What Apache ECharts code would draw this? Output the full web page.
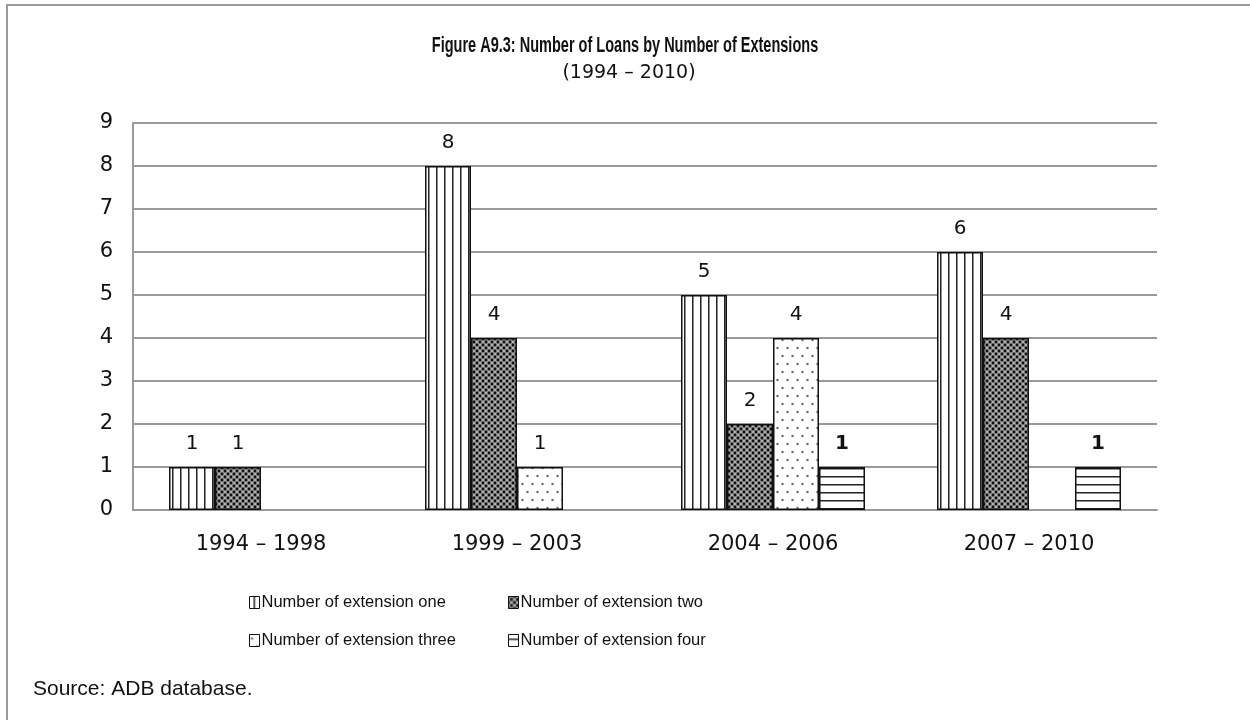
<!DOCTYPE html>
<html>
<head>
<meta charset="utf-8">
<title>Figure A9.3</title>
<script src="https://cdn.jsdelivr.net/npm/echarts@6/dist/echarts.min.js"></script>
<style>
	html, body { margin: 0; padding: 0; background: #fff; }
	#chart { width: 1250px; height: 720px; }
</style>
</head>
<body>
<div id="chart"></div>
<script>
// 数据部分
var categories = ['1994 – 1998', '1999 – 2003', '2004 – 2006', '2007 – 2010'];
var seriesNames = ['Number of extension one', 'Number of extension two', 'Number of extension three', 'Number of extension four'];
var extOne = [1, 8, 5, 6];
var extTwo = [1, 4, 2, 4];
var extThree = ['-', 1, 4, '-'];
var extFour = ['-', '-', 1, 1];
var yTicks = [0, 9, 1]; // min, max, interval

var sans = '"Liberation Sans", Arial, sans-serif';
var wide = '"DejaVu Sans", Verdana, sans-serif';

// 生成填充图案
function makePattern(kind){
	var c = document.createElement('canvas');
	var ctx = c.getContext('2d');
	if(kind == 'vert'){
		c.width = 8; c.height = 8;
		ctx.fillStyle = '#fff'; ctx.fillRect(0, 0, 8, 8);
		ctx.fillStyle = '#222'; ctx.fillRect(4, 0, 1.5, 8);
	}else if(kind == 'cross'){
		c.width = 6; c.height = 6;
		ctx.fillStyle = '#909090'; ctx.fillRect(0, 0, 6, 6);
		ctx.fillStyle = '#111';
		[[0,0],[6,0],[0,6],[6,6],[3,3]].forEach(function(p){
			ctx.beginPath(); ctx.arc(p[0], p[1], 1.4, 0, Math.PI * 2); ctx.fill();
		});
		ctx.fillStyle = '#dcdcdc';
		[[3,0],[0,3],[6,3],[3,6]].forEach(function(p){
			ctx.beginPath(); ctx.arc(p[0], p[1], 0.8, 0, Math.PI * 2); ctx.fill();
		});
	}else if(kind == 'dots'){
		c.width = 10; c.height = 16;
		ctx.fillStyle = '#fff'; ctx.fillRect(0, 0, 10, 16);
		ctx.fillStyle = '#666';
		ctx.beginPath(); ctx.arc(2.5, 4, 1.2, 0, Math.PI * 2); ctx.fill();
		ctx.beginPath(); ctx.arc(7.5, 12, 1.2, 0, Math.PI * 2); ctx.fill();
	}else{
		c.width = 8; c.height = 8;
		ctx.fillStyle = '#fff'; ctx.fillRect(0, 0, 8, 8);
		ctx.fillStyle = '#222'; ctx.fillRect(0, 4, 8, 1.5);
	}
	return { image: c, repeat: 'repeat' };
}

var patterns = [makePattern('vert'), makePattern('cross'), makePattern('dots'), makePattern('horiz')];
var values = [extOne, extTwo, extThree, extFour];

var myChart = echarts.init(document.getElementById('chart'));

// 图例位置（两行两列）
var legendPos = [[249, 594], [508, 594], [249, 632], [508, 632]];
var legends = seriesNames.map(function(name, i){
	return {
		data: [name],
		left: legendPos[i][0],
		top: legendPos[i][1],
		padding: 0,
		itemWidth: 10,
		itemHeight: 12,
		itemGap: 0,
		selectedMode: false,
		icon: 'rect',
		itemStyle: { borderColor: '#111', borderWidth: 1 },
		textStyle: { fontFamily: sans, fontSize: 16.5, color: '#111', padding: [0, 0, 0, -3] }
	};
});

var series = seriesNames.map(function(name, i){
	return {
		name: name,
		type: 'bar',
		barGap: '0%',
		barWidth: 46,
		data: values[i],
		itemStyle: { color: patterns[i], borderColor: '#111', borderWidth: 1.5 },
		label: {
			show: true,
			position: 'top',
			distance: 13,
			fontFamily: wide,
			fontSize: 20,
			fontWeight: i == 3 ? 'bold' : 'normal',
			color: '#111'
		}
	};
});

var option = {
	animation: false,
	backgroundColor: '#fff',
	legend: legends,
	grid: { left: 133, right: 93, top: 123, bottom: 210 },
	xAxis: [{
		type: 'category',
		data: categories,
		axisTick: { show: false },
		axisLine: { lineStyle: { color: '#9a9a9a', width: 2 } },
		axisLabel: { margin: 24, fontFamily: wide, fontSize: 21, color: '#111' }
	}],
	yAxis: [{
		type: 'value',
		min: yTicks[0],
		max: yTicks[1],
		interval: yTicks[2],
		axisLine: { show: true, lineStyle: { color: '#9a9a9a', width: 2 } },
		axisTick: { show: false },
		splitLine: { lineStyle: { color: '#9a9a9a', width: 2 } },
		axisLabel: { margin: 20, fontFamily: wide, fontSize: 21, color: '#111' }
	}],
	series: series,
	graphic: [{
		type: 'rect',
		shape: { x: 7, y: 5, width: 1300, height: 800 },
		style: { fill: null, stroke: '#9a9a9a', lineWidth: 2 },
		silent: true
	}, {
		// 标题，横向压缩以接近原图的窄字体
		type: 'text',
		x: 625,
		y: 46,
		scaleX: 0.66,
		style: {
			text: 'Figure A9.3: Number of Loans by Number of Extensions',
			font: 'bold 22px ' + sans,
			fill: '#111',
			align: 'center',
			verticalAlign: 'middle'
		}
	}, {
		type: 'text',
		x: 629,
		y: 73,
		style: {
			text: '(1994 – 2010)',
			font: '19px ' + wide,
			fill: '#111',
			align: 'center',
			verticalAlign: 'middle'
		}
	}, {
		type: 'text',
		x: 33,
		y: 689,
		style: {
			text: 'Source: ADB database.',
			font: '21px ' + sans,
			fill: '#111',
			align: 'left',
			verticalAlign: 'middle'
		}
	}]
};
myChart.setOption(option);
</script>
</body>
</html>
